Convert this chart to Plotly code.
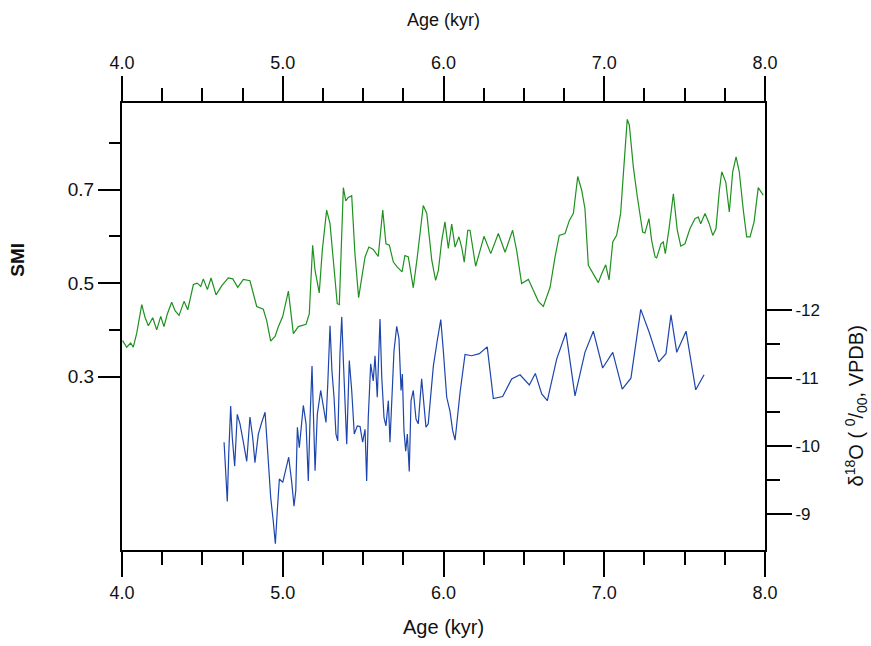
import plotly.graph_objects as go

# SMI record (green)
smi_age = [4.004, 4.029, 4.054, 4.070, 4.091, 4.123, 4.143, 4.164, 4.191, 4.216,
           4.241, 4.261, 4.282, 4.309, 4.330, 4.355, 4.386, 4.409, 4.444, 4.468,
           4.490, 4.506, 4.531, 4.554, 4.585, 4.620, 4.661, 4.689, 4.720, 4.755,
           4.796, 4.838, 4.879, 4.900, 4.925, 4.952, 4.972, 5.000, 5.035, 5.066,
           5.097, 5.145, 5.165, 5.186, 5.201, 5.227, 5.246, 5.273, 5.294, 5.319,
           5.339, 5.352, 5.377, 5.392, 5.408, 5.429, 5.449, 5.472, 5.512, 5.536,
           5.563, 5.594, 5.622, 5.642, 5.663, 5.688, 5.713, 5.742, 5.760, 5.781,
           5.812, 5.837, 5.874, 5.896, 5.927, 5.951, 5.968, 5.989, 6.009, 6.030,
           6.051, 6.072, 6.096, 6.113, 6.129, 6.151, 6.165, 6.200, 6.252, 6.294,
           6.341, 6.383, 6.430, 6.455, 6.486, 6.528, 6.559, 6.590, 6.621, 6.663,
           6.694, 6.720, 6.756, 6.783, 6.808, 6.835, 6.860, 6.880, 6.901, 6.932,
           6.963, 6.984, 7.009, 7.030, 7.053, 7.077, 7.102, 7.119, 7.143, 7.156,
           7.181, 7.206, 7.239, 7.253, 7.278, 7.295, 7.316, 7.326, 7.353, 7.367,
           7.380, 7.403, 7.430, 7.454, 7.476, 7.502, 7.533, 7.565, 7.585, 7.600,
           7.627, 7.653, 7.675, 7.695, 7.716, 7.731, 7.756, 7.778, 7.799, 7.820,
           7.840, 7.865, 7.886, 7.907, 7.932, 7.958, 7.989]
smi = [0.377, 0.363, 0.372, 0.363, 0.392, 0.454, 0.427, 0.409, 0.426, 0.400,
       0.429, 0.407, 0.434, 0.459, 0.441, 0.431, 0.461, 0.443, 0.497, 0.500,
       0.493, 0.509, 0.486, 0.511, 0.475, 0.494, 0.511, 0.509, 0.491, 0.508,
       0.505, 0.450, 0.444, 0.420, 0.376, 0.386, 0.406, 0.429, 0.483, 0.392,
       0.407, 0.412, 0.434, 0.581, 0.527, 0.479, 0.570, 0.656, 0.627, 0.534,
       0.456, 0.454, 0.704, 0.676, 0.683, 0.687, 0.563, 0.469, 0.556, 0.577,
       0.572, 0.557, 0.656, 0.584, 0.581, 0.545, 0.534, 0.524, 0.559, 0.556,
       0.490, 0.556, 0.666, 0.649, 0.549, 0.506, 0.527, 0.591, 0.631, 0.574,
       0.626, 0.577, 0.599, 0.577, 0.545, 0.613, 0.613, 0.536, 0.600, 0.563,
       0.606, 0.566, 0.613, 0.570, 0.499, 0.508, 0.484, 0.461, 0.450, 0.491,
       0.556, 0.602, 0.606, 0.634, 0.649, 0.728, 0.698, 0.659, 0.538, 0.520,
       0.501, 0.520, 0.539, 0.507, 0.588, 0.602, 0.649, 0.734, 0.850, 0.838,
       0.748, 0.684, 0.609, 0.607, 0.638, 0.591, 0.556, 0.554, 0.584, 0.588,
       0.563, 0.616, 0.691, 0.614, 0.579, 0.584, 0.616, 0.638, 0.641, 0.627,
       0.649, 0.627, 0.602, 0.616, 0.698, 0.738, 0.716, 0.652, 0.738, 0.770,
       0.738, 0.656, 0.599, 0.599, 0.631, 0.704, 0.688]

# d18O record (blue)
d18o_age = [4.635, 4.643, 4.655, 4.664, 4.676, 4.686, 4.701, 4.717, 4.734, 4.755,
            4.776, 4.796, 4.813, 4.827, 4.848, 4.869, 4.890, 4.910, 4.925, 4.941,
            4.954, 4.966, 4.979, 5.000, 5.020, 5.037, 5.056, 5.070, 5.081, 5.091,
            5.103, 5.114, 5.128, 5.145, 5.159, 5.170, 5.182, 5.201, 5.215, 5.236,
            5.252, 5.269, 5.280, 5.294, 5.306, 5.319, 5.331, 5.342, 5.356, 5.367,
            5.377, 5.389, 5.398, 5.414, 5.429, 5.445, 5.464, 5.481, 5.497, 5.512,
            5.522, 5.532, 5.547, 5.563, 5.574, 5.588, 5.605, 5.616, 5.630, 5.642,
            5.657, 5.667, 5.678, 5.692, 5.709, 5.723, 5.736, 5.744, 5.754, 5.765,
            5.775, 5.787, 5.798, 5.812, 5.829, 5.843, 5.864, 5.879, 5.891, 5.905,
            5.937, 5.961, 5.983, 5.999, 6.020, 6.040, 6.057, 6.072, 6.103, 6.134,
            6.175, 6.223, 6.272, 6.310, 6.368, 6.424, 6.476, 6.534, 6.571, 6.611,
            6.646, 6.704, 6.762, 6.818, 6.880, 6.932, 6.990, 7.053, 7.112, 7.166,
            7.227, 7.280, 7.339, 7.384, 7.415, 7.451, 7.509, 7.569, 7.621]
d18o = [-10.06, -9.64, -9.19, -9.89, -10.59, -10.13, -9.71, -10.47, -10.33, -10.06,
        -9.78, -10.43, -10.13, -9.76, -10.18, -10.35, -10.50, -9.79, -9.25, -8.90,
        -8.57, -9.05, -9.52, -9.47, -9.69, -9.84, -9.47, -9.12, -9.35, -10.28,
        -9.98, -10.23, -10.60, -10.33, -9.49, -10.42, -11.18, -9.64, -10.47, -10.82,
        -10.57, -10.35, -10.91, -11.77, -11.11, -10.72, -10.18, -10.08, -11.36, -11.90,
        -11.26, -10.42, -10.03, -11.26, -10.82, -10.18, -10.30, -10.29, -10.06, -10.25,
        -9.49, -10.42, -11.21, -10.96, -11.33, -10.72, -11.87, -11.01, -10.42, -10.30,
        -10.67, -10.06, -10.77, -11.40, -11.76, -11.58, -10.82, -11.06, -10.23, -9.93,
        -10.18, -9.63, -10.67, -10.82, -10.40, -10.33, -10.99, -10.62, -10.28, -10.33,
        -11.18, -11.55, -11.86, -11.40, -10.72, -10.52, -10.23, -10.09, -10.79, -11.35,
        -11.33, -11.36, -11.46, -10.70, -10.73, -10.99, -11.05, -10.90, -11.07, -10.77,
        -10.67, -11.28, -11.67, -10.74, -11.38, -11.69, -11.15, -11.38, -10.84, -11.00,
        -12.01, -11.67, -11.24, -11.36, -11.93, -11.38, -11.69, -10.83, -11.05]

assert len(smi_age) == len(smi)
assert len(d18o_age) == len(d18o)

age_range = [4.0, 8.0]
age_ticks = [4.0, 5.0, 6.0, 7.0, 8.0]
age_labels = ["4.0", "5.0", "6.0", "7.0", "8.0"]
smi_ticks = [0.3, 0.5, 0.7]
smi_labels = ["0.3", "0.5", "0.7"]
smi_minor = [0.4, 0.6, 0.8]
d18o_ticks = [-12, -11, -10, -9]
d18o_labels = ["-12", "-11", "-10", "-9"]
d18o_minor = [-11.5, -10.5, -9.5]

FONT = "Liberation Sans, Arial, sans-serif"
TXT = "#111111"

fig = go.Figure()
fig.add_trace(go.Scatter(x=smi_age, y=smi, xaxis="x", yaxis="y", mode="lines",
                         line=dict(color="#1e911e", width=1.2), showlegend=False))
fig.add_trace(go.Scatter(x=d18o_age, y=d18o, xaxis="x", yaxis="y2", mode="lines",
                         line=dict(color="#1d45ad", width=1.2), showlegend=False))
# invisible helper so the top age axis is drawn
fig.add_trace(go.Scatter(x=age_range, y=[None, None], xaxis="x2", yaxis="y", mode="lines",
                         showlegend=False, hoverinfo="skip"))

def xax(**extra):
    d = dict(range=age_range, tickmode="array", tickvals=age_ticks, ticktext=age_labels,
             ticks="outside", ticklen=25, tickwidth=2, tickcolor="black",
             showline=True, linewidth=2, linecolor="black", showgrid=False, zeroline=False,
             tickfont=dict(family=FONT, size=18, color=TXT),
             minor=dict(tickmode="linear", tick0=4, dtick=0.25, ticklen=13, tickwidth=2,
                        tickcolor="black", ticks="outside", showgrid=False))
    d.update(extra)
    return d

fig.update_layout(
    width=871, height=646,
    margin=dict(l=122, r=106, t=103, b=96),
    paper_bgcolor="white", plot_bgcolor="rgba(0,0,0,0)",
    xaxis=xax(side="bottom", anchor="y"),
    xaxis2=xax(side="top", anchor="y", overlaying="x"),
    yaxis=dict(range=[-0.0705, 0.885], side="left", anchor="x",
               tickmode="array", tickvals=smi_ticks, ticktext=smi_labels,
               ticks="outside", ticklen=22, tickwidth=2, tickcolor="black",
               showline=True, linewidth=2, linecolor="black", showgrid=False, zeroline=False,
               tickfont=dict(family=FONT, size=19, color=TXT),
               minor=dict(tickmode="array", tickvals=smi_minor, ticklen=11, tickwidth=2,
                          tickcolor="black", ticks="outside", showgrid=False)),
    yaxis2=dict(range=[-8.478, -15.04], side="right", anchor="x", overlaying="y",
                tickmode="array", tickvals=d18o_ticks, ticktext=d18o_labels,
                ticks="outside", ticklen=25, tickwidth=2, tickcolor="black",
                showline=True, linewidth=2, linecolor="black", showgrid=False, zeroline=False,
                tickfont=dict(family=FONT, size=17, color=TXT),
                minor=dict(tickmode="array", tickvals=d18o_minor, ticklen=13, tickwidth=2,
                           tickcolor="black", ticks="outside", showgrid=False)),
    annotations=[
        dict(text="Age (kyr)", xref="paper", yref="paper", x=0.5, y=1.185,
             xanchor="center", yanchor="middle", showarrow=False,
             font=dict(family=FONT, size=18, color=TXT)),
        dict(text="Age (kyr)", xref="paper", yref="paper", x=0.5, y=-0.172,
             xanchor="center", yanchor="middle", showarrow=False,
             font=dict(family=FONT, size=20, color=TXT)),
        dict(text="<b>SMI</b>", xref="paper", yref="y", x=-0.1617, y=0.55,
             xanchor="center", yanchor="middle", textangle=-90, showarrow=False,
             font=dict(family=FONT, size=19, color=TXT)),
        dict(text="δ<sup>18</sup>O ( <sup>0</sup>/<sub>00</sub>, VPDB)", xref="paper", yref="y2",
             x=1.1415, y=-10.6, xanchor="center", yanchor="middle", textangle=-90,
             showarrow=False, font=dict(family=FONT, size=20, color=TXT)),
    ],
)

fig.write_html("out.html")
